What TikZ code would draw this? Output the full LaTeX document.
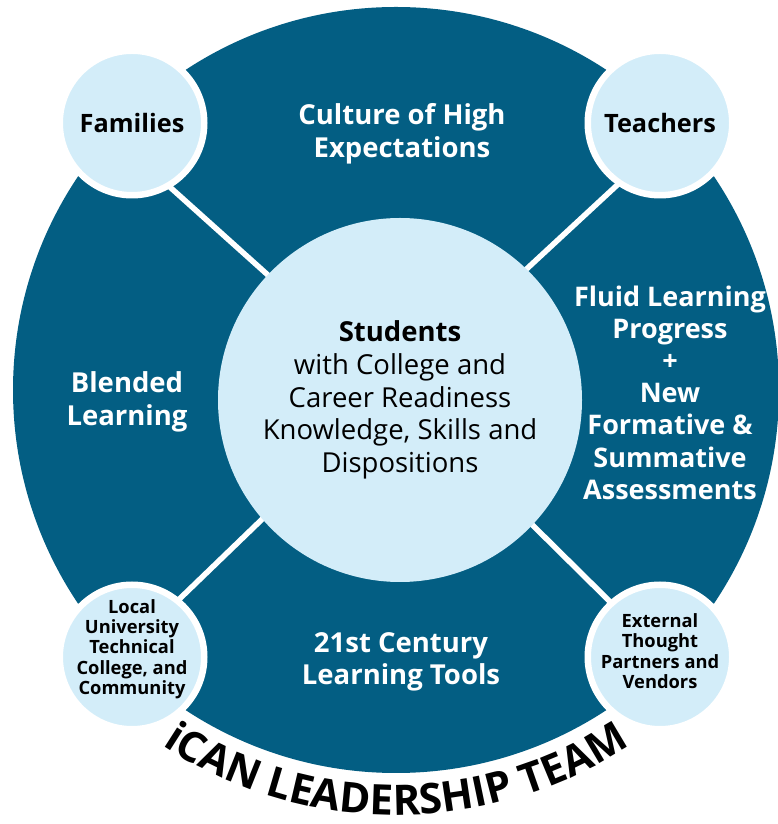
\documentclass[tikz,border=0pt]{standalone}
\usepackage{fontspec}
\setmainfont{Open Sans}
\usetikzlibrary{decorations.text}
\definecolor{ringblue}{RGB}{3,94,131}
\definecolor{paleblue}{RGB}{211,237,249}
\newcommand\bannerfont{\fontsize{42}{42}\selectfont\bfseries}

\begin{document}
\begin{tikzpicture}[x=1pt,y=1pt,
  outerring/.style={circle,fill=ringblue,minimum size=766pt,inner sep=0pt},
  core/.style={circle,fill=paleblue,minimum size=364pt,inner sep=0pt,align=center,
    font=\fontsize{27.5}{32.7}\selectfont},
  partner/.style={circle,fill=paleblue,draw=white,line width=6.5pt,minimum size=144.5pt,inner sep=0pt},
  partnerlabel/.style={align=center,font=\fontsize{18.3}{20.3}\selectfont\bfseries},
  bigpartner/.style={font=\fontsize{25.3}{28}\selectfont\bfseries},
  pillar/.style={align=center,text=white,font=\fontsize{27.5}{32.5}\selectfont\bfseries},
  spoke/.style={white,line width=5.5pt},
]
\useasboundingbox (0,0) rectangle (778,824);

% outer ring
\node[outerring] (hub) at (396,434) {};

% partner circle centres
\path (132,701) coordinate (famc) (660,701) coordinate (teac)
      (132,167) coordinate (locc) (660,167) coordinate (extc);

% spokes
\draw[spoke] (hub.center) -- ([shift={(-60:72)}]famc);
\draw[spoke] (hub.center) -- ([shift={(236:72)}]teac);
\draw[spoke] (hub.center) -- ([shift={(51:72)}]locc);
\draw[spoke] (hub.center) -- ([shift={(132:72)}]extc);

% centre
\node[core] (students) at (400,424)
  {\textbf{Students}\\with College and\\Career Readiness\\Knowledge, Skills and\\Dispositions};

% partners
\node[partner,bigpartner] (fam) at (famc) {Families};
\node[partner,bigpartner] (tea) at (teac) {Teachers};
\node[partner] (loc) at (locc) {};
\node[partner] (ext) at (extc) {};
\node[partnerlabel] (loctext) at ([yshift=8]loc.center)
  {Local\\University\\Technical\\College, and\\Community};
\node[partnerlabel] (exttext) at ([yshift=6]ext.center)
  {External\\Thought\\Partners and\\Vendors};

% pillars
\node[pillar] (culture) at (402,690) {Culture of High\\Expectations};
\node[pillar,font=\fontsize{27}{32.2}\selectfont\bfseries] (fluid) at (670,431.5)
  {Fluid Learning\\Progress\\+\\New\\Formative \&\\Summative\\Assessments};
\node[pillar] (blended) at (127,422.3) {Blended\\Learning};
\node[pillar] (tools) at (401,162.3) {21st Century\\Learning Tools};

% team banner
\path[decorate,decoration={text along path,text align=center,
    text={|\bannerfont|iCAN LEADERSHIP TEAM}}]
  (hub.center) ++(225:425) arc[start angle=225,end angle=315,radius=425];
\end{tikzpicture}
\end{document}
